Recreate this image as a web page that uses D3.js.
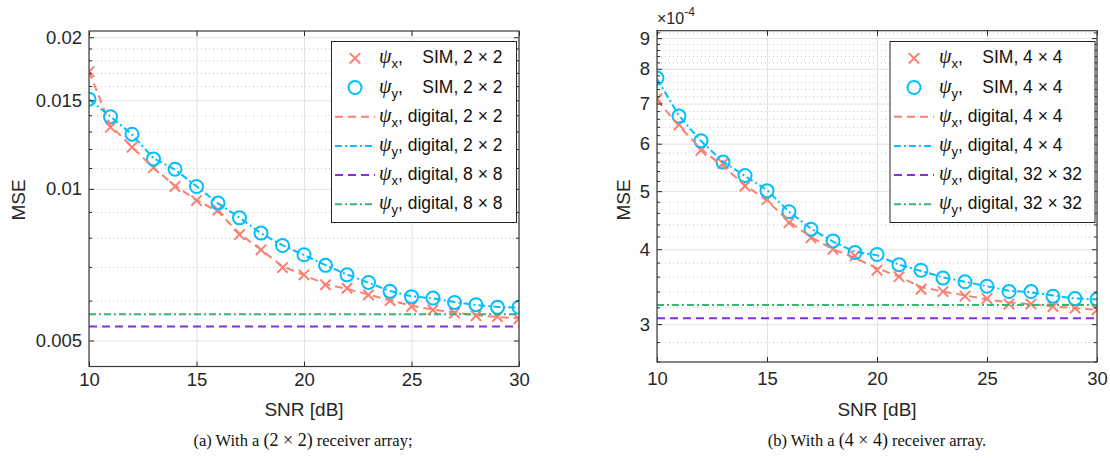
<!DOCTYPE html>
<html>
<head>
<meta charset="utf-8">
<script src="https://cdn.jsdelivr.net/npm/d3@7"></script>
<style>
  body { margin: 0; background: #fff; }
  svg { display: block; font-family: "Liberation Sans", Arial, Helvetica, sans-serif; }
  .tick text { fill: #262626; }
</style>
</head>
<body>
<svg id="fig" width="1110" height="461"></svg>
<script>
// ---- shared x values (SNR in dB) ----
const snr = [10, 11, 12, 13, 14, 15, 16, 17, 18, 19, 20, 21, 22, 23, 24, 25, 26, 27, 28, 29, 30];
const xTicks = [10, 15, 20, 25, 30];

// ---- panel (a): 2 x 2 receiver array ----
const aSimX = [0.01709, 0.01326, 0.01210, 0.01102, 0.01011, 0.00948, 0.00908, 0.00811, 0.00757, 0.00698, 0.00675,
               0.00645, 0.00635, 0.00616, 0.00600, 0.00584, 0.00575, 0.00567, 0.00560, 0.00558, 0.00552];
const aSimY = [0.01507, 0.01391, 0.01284, 0.01147, 0.01094, 0.01011, 0.00937, 0.00876, 0.00817, 0.00772, 0.00740,
               0.00705, 0.00675, 0.00652, 0.00626, 0.00611, 0.00607, 0.00595, 0.00589, 0.00582, 0.00582];
const aDigX = [0.01712, 0.01335, 0.01212, 0.01100, 0.01015, 0.00950, 0.00902, 0.00815, 0.00757, 0.00702, 0.00674,
               0.00647, 0.00633, 0.00617, 0.00601, 0.00586, 0.00576, 0.00568, 0.00561, 0.00557, 0.00553];
const aDigY = [0.01505, 0.01392, 0.01282, 0.01150, 0.01092, 0.01012, 0.00936, 0.00877, 0.00816, 0.00773, 0.00739,
               0.00706, 0.00676, 0.00651, 0.00627, 0.00612, 0.00606, 0.00596, 0.00588, 0.00583, 0.00581];
const aDigXLarge = 0.00533;   // digital, 8 x 8
const aDigYLarge = 0.00564;
const aYMajor = [0.005, 0.01, 0.015, 0.02];
const aYMajorLabels = ["0.005", "0.01", "0.015", "0.02"];
const aYMinor = [0.006, 0.007, 0.008, 0.009, 0.011, 0.012, 0.013, 0.014, 0.016, 0.017, 0.018, 0.019];
const aLegend = [
  { sub: "x", kind: "SIM", size: "2 \u00d7 2" },
  { sub: "y", kind: "SIM", size: "2 \u00d7 2" },
  { sub: "x", kind: "digital", size: "2 \u00d7 2" },
  { sub: "y", kind: "digital", size: "2 \u00d7 2" },
  { sub: "x", kind: "digital", size: "8 \u00d7 8" },
  { sub: "y", kind: "digital", size: "8 \u00d7 8" }
];

// ---- panel (b): 4 x 4 receiver array ----
const bSimX = [7.13, 6.45, 5.85, 5.56, 5.10, 4.84, 4.43, 4.18, 4.00, 3.90, 3.69,
               3.60, 3.43, 3.40, 3.34, 3.31, 3.24, 3.24, 3.21, 3.19, 3.17].map(v => v * 1e-4);
const bSimY = [7.72, 6.67, 6.07, 5.59, 5.31, 5.01, 4.62, 4.32, 4.13, 3.95, 3.92,
               3.77, 3.69, 3.58, 3.53, 3.47, 3.40, 3.40, 3.34, 3.31, 3.30].map(v => v * 1e-4);
const bDigX = [7.10, 6.42, 5.88, 5.50, 5.12, 4.82, 4.45, 4.19, 4.00, 3.87, 3.72,
               3.60, 3.46, 3.40, 3.35, 3.30, 3.26, 3.24, 3.21, 3.19, 3.17].map(v => v * 1e-4);
const bDigY = [7.70, 6.68, 6.06, 5.60, 5.30, 5.02, 4.62, 4.33, 4.12, 3.96, 3.91,
               3.77, 3.68, 3.59, 3.53, 3.47, 3.41, 3.39, 3.35, 3.31, 3.30].map(v => v * 1e-4);
const bDigXLarge = 3.07e-4;   // digital, 32 x 32
const bDigYLarge = 3.23e-4;
const bYMajor = [3e-4, 4e-4, 5e-4, 6e-4, 7e-4, 8e-4, 9e-4];
const bYMajorLabels = ["3", "4", "5", "6", "7", "8", "9"];
const bYMinor = [2.6, 2.8, 3.2, 3.4, 3.6, 3.8, 4.2, 4.4, 4.6, 4.8, 5.2, 5.4, 5.6, 5.8, 6.2, 6.4, 6.6, 6.8,
                 7.2, 7.4, 7.6, 7.8, 8.2, 8.4, 8.6, 8.8, 9.2].map(v => v * 1e-4);
const bLegend = [
  { sub: "x", kind: "SIM", size: "4 \u00d7 4" },
  { sub: "y", kind: "SIM", size: "4 \u00d7 4" },
  { sub: "x", kind: "digital", size: "4 \u00d7 4" },
  { sub: "y", kind: "digital", size: "4 \u00d7 4" },
  { sub: "x", kind: "digital", size: "32 \u00d7 32" },
  { sub: "y", kind: "digital", size: "32 \u00d7 32" }
];

// ---- styles ----
const C = { salmon: "#FA8072", sky: "#00BFFF", violet: "#8A2BE2", green: "#3CB371", axis: "#262626" };
const DASH = "8,5";
const DASHDOT = "7,3,2,3";
const LEG_FONT = 17.5;

const svg = d3.select("#fig");

function drawPanel(p, idx) {
  const g = svg.append("g");
  const x = d3.scaleLinear().domain([10, 30]).range([p.x0, p.x1]);
  const y = d3.scaleLog().domain(p.yDomain).range([p.y1, p.y0]);
  const w = p.x1 - p.x0, h = p.y1 - p.y0;

  const clipId = "clip" + idx;
  svg.append("clipPath").attr("id", clipId)
    .append("rect").attr("x", p.x0).attr("y", p.y0).attr("width", w).attr("height", h);

  // minor horizontal grid (dotted)
  g.append("g").attr("transform", `translate(${p.x0},0)`)
    .call(d3.axisLeft(y).tickValues(p.yMinor).tickSizeInner(-w).tickSizeOuter(0).tickFormat(""))
    .call(s => s.select(".domain").remove())
    .call(s => s.selectAll("line").attr("stroke", "#c4c4c4").attr("stroke-dasharray", "1,3"));
  // major horizontal grid
  g.append("g").attr("transform", `translate(${p.x0},0)`)
    .call(d3.axisLeft(y).tickValues(p.yMajor).tickSizeInner(-w).tickSizeOuter(0).tickFormat(""))
    .call(s => s.select(".domain").remove())
    .call(s => s.selectAll("line").attr("stroke", "#e2e2e2"));
  // vertical grid
  g.append("g").attr("transform", `translate(0,${p.y1})`)
    .call(d3.axisBottom(x).tickValues(xTicks).tickSizeInner(-h).tickSizeOuter(0).tickFormat(""))
    .call(s => s.select(".domain").remove())
    .call(s => s.selectAll("line").attr("stroke", "#e2e2e2"));

  // plotted series
  const plot = g.append("g").attr("clip-path", `url(#${clipId})`);
  const line = d3.line().x((d, i) => x(snr[i])).y(d => y(d));

  // SIM markers
  const cs = 5.2;
  plot.append("g").selectAll("path").data(p.simX).join("path")
    .attr("d", (d, i) => {
      const cx = x(snr[i]), cy = y(d);
      return `M${cx - cs},${cy - cs}L${cx + cs},${cy + cs}M${cx - cs},${cy + cs}L${cx + cs},${cy - cs}`;
    })
    .attr("stroke", C.salmon).attr("stroke-width", 2).attr("fill", "none");
  plot.append("g").selectAll("circle").data(p.simY).join("circle")
    .attr("cx", (d, i) => x(snr[i])).attr("cy", d => y(d)).attr("r", 6.5)
    .attr("stroke", C.sky).attr("stroke-width", 2).attr("fill", "none");

  // digital curves
  plot.append("path").attr("d", line(p.digX))
    .attr("fill", "none").attr("stroke", C.salmon).attr("stroke-width", 2).attr("stroke-dasharray", DASH);
  plot.append("path").attr("d", line(p.digY))
    .attr("fill", "none").attr("stroke", C.sky).attr("stroke-width", 2).attr("stroke-dasharray", DASHDOT);
  const flat = v => `M${x(snr[0])},${y(v)}L${x(snr[snr.length - 1])},${y(v)}`;
  plot.append("path").attr("d", flat(p.digXLarge))
    .attr("fill", "none").attr("stroke", C.violet).attr("stroke-width", 2).attr("stroke-dasharray", DASH);
  plot.append("path").attr("d", flat(p.digYLarge))
    .attr("fill", "none").attr("stroke", C.green).attr("stroke-width", 2).attr("stroke-dasharray", DASHDOT);

  // axes: inward ticks on all four sides
  const tickStyle = s => {
    s.select(".domain").remove();
    s.selectAll("line").attr("stroke", C.axis);
  };
  g.append("g").attr("transform", `translate(0,${p.y1})`)
    .call(d3.axisBottom(x).tickValues(xTicks).tickSizeInner(-5).tickSizeOuter(0).tickPadding(p.xPad))
    .call(tickStyle)
    .call(s => s.selectAll("text").attr("font-size", 18.5).attr("font-family", "Liberation Sans"));
  g.append("g").attr("transform", `translate(0,${p.y0})`)
    .call(d3.axisTop(x).tickValues(xTicks).tickSizeInner(-5).tickSizeOuter(0).tickFormat(""))
    .call(tickStyle);
  g.append("g").attr("transform", `translate(${p.x0},0)`)
    .call(d3.axisLeft(y).tickValues(p.yMajor).tickSizeInner(-5).tickSizeOuter(0).tickPadding(7)
      .tickFormat((d, i) => p.yLabels[i]))
    .call(tickStyle)
    .call(s => s.selectAll("text").attr("font-size", 18.5).attr("font-family", "Liberation Sans"));
  g.append("g").attr("transform", `translate(${p.x0},0)`)
    .call(d3.axisLeft(y).tickValues(p.yMinor).tickSizeInner(-3).tickSizeOuter(0).tickFormat(""))
    .call(tickStyle);
  g.append("g").attr("transform", `translate(${p.x1},0)`)
    .call(d3.axisRight(y).tickValues(p.yMajor).tickSizeInner(-5).tickSizeOuter(0).tickFormat(""))
    .call(tickStyle);
  g.append("g").attr("transform", `translate(${p.x1},0)`)
    .call(d3.axisRight(y).tickValues(p.yMinor).tickSizeInner(-3).tickSizeOuter(0).tickFormat(""))
    .call(tickStyle);

  // box
  g.append("rect").attr("x", p.x0).attr("y", p.y0).attr("width", w).attr("height", h)
    .attr("fill", "none").attr("stroke", "#3a3a3a").attr("stroke-width", 1.2);

  // axis titles
  g.append("text").attr("x", (p.x0 + p.x1) / 2).attr("y", 416).attr("text-anchor", "middle")
    .attr("font-size", 19).attr("fill", C.axis).text("SNR [dB]");
  g.append("text").attr("transform", `translate(${p.yTitleX},200) rotate(-90)`).attr("text-anchor", "middle")
    .attr("font-size", 19).attr("fill", C.axis).text("MSE");

  if (p.exponent) {
    const t = g.append("text").attr("x", p.x0).attr("y", 24).attr("font-size", 16).attr("fill", C.axis);
    t.append("tspan").text("\u00d710");
    t.append("tspan").attr("font-size", 12).attr("dy", -8).text(p.exponent);
  }

  // caption
  const cap = g.append("text").attr("x", p.capX).attr("y", 446).attr("text-anchor", "middle")
    .attr("font-family", "Liberation Serif, Times New Roman, serif").attr("font-size", 16.5).attr("fill", "#111");
  cap.append("tspan").text(p.caption[0]);
  cap.append("tspan").attr("font-size", 18).text(p.caption[1]);
  cap.append("tspan").text(p.caption[2]);

  // legend
  const L = p.legend;
  const lg = g.append("g");
  lg.append("rect").attr("x", L.x0).attr("y", L.y0).attr("width", L.x1 - L.x0).attr("height", L.y1 - L.y0)
    .attr("fill", "#fff").attr("stroke", C.axis).attr("stroke-width", 1);
  const rowY = i => L.firstRow + i * 29.2;
  const colors = [C.salmon, C.sky, C.salmon, C.sky, C.violet, C.green];
  const dashes = [null, null, DASH, DASHDOT, DASH, DASHDOT];
  const mx = (L.lineX0 + L.lineX1) / 2;

  const rows = p.legendItems.map((it, i) => {
    const ry = rowY(i);
    if (i === 0) {
      lg.append("path").attr("d", `M${mx - cs},${ry - cs}L${mx + cs},${ry + cs}M${mx - cs},${ry + cs}L${mx + cs},${ry - cs}`)
        .attr("stroke", colors[i]).attr("stroke-width", 2).attr("fill", "none");
    } else if (i === 1) {
      lg.append("circle").attr("cx", mx).attr("cy", ry).attr("r", 6.5)
        .attr("stroke", colors[i]).attr("stroke-width", 2).attr("fill", "none");
    } else {
      lg.append("line").attr("x1", L.lineX0).attr("x2", L.lineX1).attr("y1", ry).attr("y2", ry)
        .attr("stroke", colors[i]).attr("stroke-width", 2).attr("stroke-dasharray", dashes[i]);
    }
    const t = lg.append("text").attr("x", L.textX).attr("y", ry + 5).attr("font-size", LEG_FONT).attr("fill", "#111");
    t.append("tspan").attr("font-family", "Liberation Serif, serif").attr("font-style", "italic")
      .attr("font-size", 20).text("\u03c8");
    t.append("tspan").attr("font-size", 13).attr("dy", 5).text(it.sub);
    t.append("tspan").attr("dy", -5).text(",");
    return { t, it, ry };
  });
  // "digital" rows carry the full text; SIM rows are right-aligned to the same end
  let endX = 0;
  rows.forEach(r => {
    if (r.it.kind === "digital") {
      r.t.append("tspan").text(" digital, " + r.it.size);
      if (r.it.size === p.legendItems[2].size) endX = L.textX + r.t.node().getComputedTextLength();
    }
  });
  rows.forEach(r => {
    if (r.it.kind === "SIM") {
      lg.append("text").attr("x", endX).attr("y", r.ry + 5).attr("text-anchor", "end")
        .attr("font-size", LEG_FONT).attr("fill", "#111").text("SIM, " + r.it.size);
    }
  });
}

drawPanel({
  x0: 89, x1: 519, y0: 31, y1: 366.5, yDomain: [0.00444, 0.02058],
  simX: aSimX, simY: aSimY, digX: aDigX, digY: aDigY, digXLarge: aDigXLarge, digYLarge: aDigYLarge,
  yMajor: aYMajor, yLabels: aYMajorLabels, yMinor: aYMinor, xPad: 6, yTitleX: 25,
  caption: ["(a) With a ", "(2 \u00d7 2)", " receiver array;"], capX: 303,
  legendItems: aLegend,
  legend: { x0: 331.5, x1: 516.5, y0: 41.5, y1: 222.5, firstRow: 58.3, lineX0: 335, lineX1: 375, textX: 379 }
}, 0);

drawPanel({
  x0: 657, x1: 1097, y0: 30.7, y1: 362, yDomain: [2.594e-4, 9.26e-4],
  simX: bSimX, simY: bSimY, digX: bDigX, digY: bDigY, digXLarge: bDigXLarge, digYLarge: bDigYLarge,
  yMajor: bYMajor, yLabels: bYMajorLabels, yMinor: bYMinor, xPad: 10, yTitleX: 630, exponent: "-4",
  caption: ["(b) With a ", "(4 \u00d7 4)", " receiver array."], capX: 877,
  legendItems: bLegend,
  legend: { x0: 890, x1: 1095, y0: 41.5, y1: 222.5, firstRow: 58.3, lineX0: 894, lineX1: 934, textX: 939 }
}, 1);
</script>
</body>
</html>
